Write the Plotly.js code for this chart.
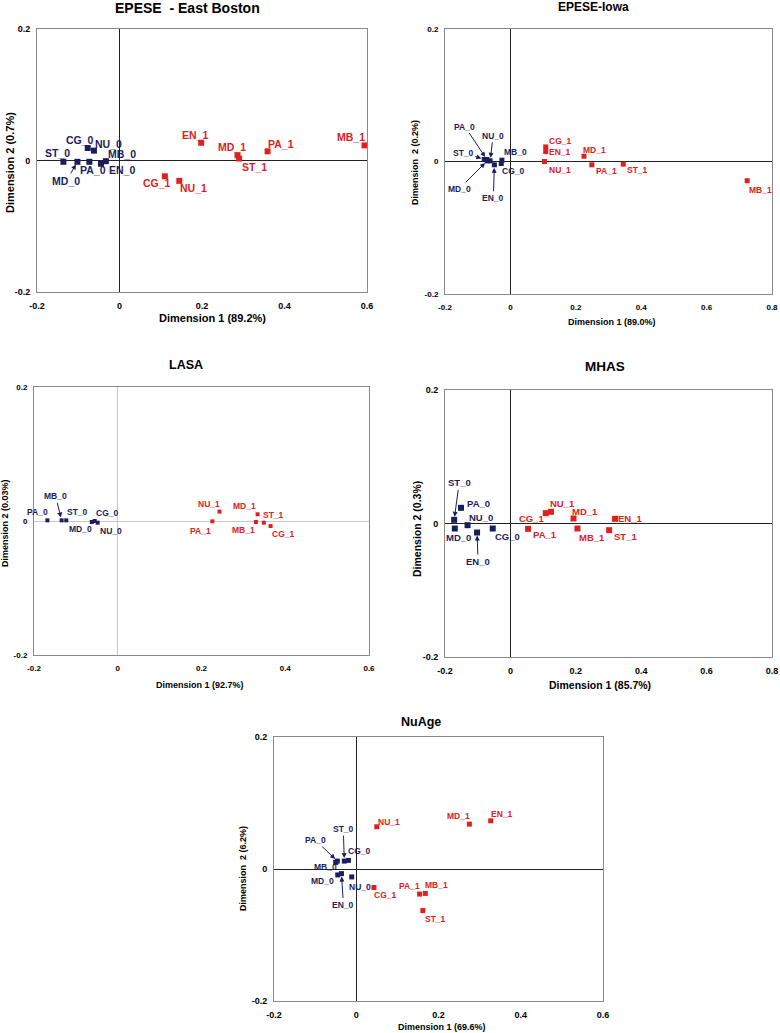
<!DOCTYPE html>
<html>
<head>
<meta charset="utf-8">
<script src="https://cdn.plot.ly/plotly-3.0.1.min.js"></script>
<style>html,body{margin:0;padding:0;background:#fff;}#chart{width:780px;height:1033px;}</style>
</head>
<body>
<div id="chart"></div>
<script>
// ---------- DATA ----------
const bostonLabels = ["ST_0","MD_0","PA_0","CG_0","NU_0","EN_0","MB_0","EN_1","MD_1","ST_1","PA_1","MB_1","CG_1","NU_1"];
const bostonDim1   = [-0.136,-0.102,-0.073,-0.077,-0.062,-0.045,-0.033,0.198,0.286,0.290,0.359,0.594,0.110,0.145];
const bostonDim2   = [-0.002,-0.002,-0.002,0.019,0.015,-0.005,-0.001,0.027,0.008,0.003,0.014,0.023,-0.024,-0.031];

const iowaLabels = ["ST_0","PA_0","NU_0","MD_0","EN_0","CG_0","MB_0","CG_1","EN_1","NU_1","MD_1","PA_1","ST_1","MB_1"];
const iowaDim1   = [-0.080,-0.072,-0.062,-0.071,-0.049,-0.028,-0.026,0.108,0.108,0.104,0.225,0.249,0.345,0.724];
const iowaDim2   = [0.003,0.003,0.001,0.001,-0.005,-0.003,0.002,0.022,0.015,0.000,0.008,-0.005,-0.004,-0.029];

const lasaLabels = ["PA_0","MB_0","ST_0","MD_0","CG_0","NU_0","NU_1","PA_1","MD_1","MB_1","ST_1","CG_1"];
const lasaDim1   = [-0.168,-0.134,-0.123,-0.062,-0.055,-0.048,0.243,0.226,0.334,0.330,0.349,0.365];
const lasaDim2   = [0.001,0.001,0.001,-0.0015,0.000,-0.0025,0.014,-0.0005,0.010,-0.0015,-0.0025,-0.0075];

const mhasLabels = ["ST_0","PA_0","NU_0","MD_0","EN_0","CG_0","CG_1","NU_1","PA_1","MD_1","MB_1","EN_1","ST_1"];
const mhasDim1   = [-0.172,-0.151,-0.131,-0.170,-0.102,-0.054,0.108,0.124,0.054,0.193,0.205,0.320,0.302];
const mhasDim2   = [0.0055,0.0235,-0.0025,-0.0075,-0.0135,-0.0075,0.0155,0.0175,-0.008,0.0075,-0.0075,0.007,-0.010];

const nuageLabels = ["NU_1","MD_1","EN_1","PA_0","ST_0","CG_0","MB_0","MD_0","EN_0","NU_0","CG_1","PA_1","MB_1","ST_1"];
const nuageDim1   = [0.050,0.275,0.327,-0.046,-0.029,-0.019,-0.050,-0.045,-0.036,-0.011,0.043,0.154,0.168,0.162];
const nuageDim2   = [0.064,0.068,0.073,0.012,0.012,0.013,0.010,-0.009,-0.007,-0.012,-0.028,-0.038,-0.037,-0.063];

const xTicks = [-0.2, 0, 0.2, 0.4, 0.6, 0.8];
const yTicks = [-0.2, 0, 0.2];

// ---------- STYLE / LAYOUT ----------
const NAVY = "#1b1d5c", RED = "#e0201e";
const W = 780, H = 1033;
const FONT = "Liberation Sans, Arial, sans-serif";

const panels = [
  {title:"EPESE  - East Boston", labels:bostonLabels, d1:bostonDim1, d2:bostonDim2,
   xmax:0.6, box:[37,367,29,292], titleXY:[187,8,14], xt:["Dimension 1 (89.2%)",213,318,11], yt:["Dimension 2 (0.7%)",10,163,11],
   tickSize:9, lblSize:10.5, mk:6, zero:"#222",
   off:{ST_0:[-6,-9],MD_0:[-11,19,1],PA_0:[4,8],CG_0:[-8,-8],NU_0:[15,-7],EN_0:[21,6],MB_0:[16,-7],
        EN_1:[-6,-8],MD_1:[-5,-8],ST_1:[15,8],PA_1:[13,-7],MB_1:[-14,-8],CG_1:[-8,7],NU_1:[14,7]}},
  {title:"EPESE-Iowa", labels:iowaLabels, d1:iowaDim1, d2:iowaDim2,
   xmax:0.8, box:[445,772,29,294], titleXY:[593,7,12], xt:["Dimension 1 (89.0%)",612,322,9], yt:["Dimension  2 (0.2%)",415,163,9],
   tickSize:8, lblSize:8.5, mk:5, zero:"#222",
   off:{ST_0:[-21,-7,1],PA_0:[-22,-33,1],NU_0:[3,-25,1],MD_0:[-28,28,1],EN_0:[-1,33,1],CG_0:[12,8],MB_0:[14,-8],
        CG_1:[14,-6],EN_1:[14,0],NU_1:[16,9],MD_1:[11,-6],PA_1:[15,6],ST_1:[14,6],MB_1:[13,9]}},
  {title:"LASA", labels:lasaLabels, d1:lasaDim1, d2:lasaDim2,
   xmax:0.6, box:[34,369,387,655], titleXY:[186,365,12.5], xt:["Dimension 1 (92.7%)",200,685,9], yt:["Dimension 2 (0.03%)",5,523,9],
   tickSize:8, lblSize:8.5, mk:4, zero:"#c8c8c8",
   off:{PA_0:[-10,-8],MB_0:[-6,-24,1],ST_0:[11,-8],MD_0:[-11,7],CG_0:[12,-8],NU_0:[13,8],
        NU_1:[-11,-8],PA_1:[-12,10],MD_1:[-13,-8],MB_1:[-12,8],ST_1:[10,-8],CG_1:[12,8]}},
  {title:"MHAS", labels:mhasLabels, d1:mhasDim1, d2:mhasDim2,
   xmax:0.8, box:[445,772,390,657], titleXY:[605,367,13.5], xt:["Dimension 1 (85.7%)",600,685,10.5], yt:["Dimension 2 (0.3%)",417,529,10.5],
   tickSize:9, lblSize:9.5, mk:6, zero:"#222",
   off:{ST_0:[5,-37,1],PA_0:[17,-4],NU_0:[13,-8],MD_0:[4,9],EN_0:[1,29,1],CG_0:[15,8],
        CG_1:[-14,5],NU_1:[12,-8],PA_1:[17,6],MD_1:[11,-7],MB_1:[15,9],EN_1:[15,0],ST_1:[16,6]}},
  {title:"NuAge", labels:nuageLabels, d1:nuageDim1, d2:nuageDim2,
   xmax:0.6, box:[274,603,737,1001], titleXY:[421,722,12.5], xt:["Dimension 1 (69.6%)",442,1027,9], yt:["Dimension  2 (6.2%)",243,869,9],
   tickSize:9, lblSize:8.5, mk:5, zero:"#222",
   off:{NU_1:[12,-5],MD_1:[-11,-8],EN_1:[11,-7],PA_0:[-22,-21,1],ST_0:[-1,-32,1],CG_0:[11,-9],MB_0:[-10,5],
        MD_0:[-15,6],EN_0:[2,31,1],NU_0:[8,10],CG_1:[11,8],PA_1:[-10,-8],MB_1:[11,-8],ST_1:[13,8]}}
];

const traces = [];
const layout = {
  width: W, height: H, margin:{l:0,r:0,t:0,b:0},
  paper_bgcolor:"#fff", plot_bgcolor:"#fff", showlegend:false,
  font:{family:FONT, color:"#000"}, annotations:[]
};

panels.forEach((p, i) => {
  const n = i + 1;
  const xa = "xaxis" + (n === 1 ? "" : n), ya = "yaxis" + (n === 1 ? "" : n);
  const xr = "x" + (n === 1 ? "" : n), yr = "y" + (n === 1 ? "" : n);
  const [x0, x1, y0, y1] = p.box;
  const ticks = xTicks.filter(t => t <= p.xmax + 1e-9);
  const axisCommon = {
    showgrid:false, zeroline:true, zerolinecolor:p.zero, zerolinewidth:1,
    showline:true, mirror:true, linecolor:"#8a8a8a", linewidth:1,
    ticks:"", tickfont:{family:FONT, size:p.tickSize, color:"#000", weight:"bold"},
    fixedrange:true
  };
  layout[xa] = Object.assign({}, axisCommon, {
    domain:[x0 / W, x1 / W], range:[-0.2, p.xmax], tickvals:ticks,
    ticktext:ticks.map(t => String(t)), anchor:yr, ticklabelstandoff:5
  });
  layout[ya] = Object.assign({}, axisCommon, {
    domain:[1 - y1 / H, 1 - y0 / H], range:[-0.2, 0.2], tickvals:yTicks,
    ticktext:yTicks.map(t => String(t)), anchor:xr, ticklabelstandoff:4
  });

  const colors = p.labels.map(l => l.endsWith("_1") ? RED : NAVY);
  traces.push({
    type:"scatter", mode:"markers", x:p.d1, y:p.d2, xaxis:xr, yaxis:yr, cliponaxis:false,
    text:p.labels, hoverinfo:"text",
    marker:{symbol:"square", size:p.mk, color:colors, line:{width:0}}
  });

  p.labels.forEach((lab, k) => {
    const o = p.off[lab] || [10, -8];
    const col = lab.endsWith("_1") ? RED : NAVY;
    const base = {x:p.d1[k], y:p.d2[k], xref:xr, yref:yr, text:lab,
      font:{family:FONT, size:p.lblSize, color:col, weight:"bold"}};
    if (o[2]) {
      layout.annotations.push(Object.assign(base, {showarrow:true, ax:o[0], ay:o[1],
        arrowhead:2, arrowsize:1, arrowwidth:1, arrowcolor:NAVY, standoff:3}));
    } else {
      layout.annotations.push(Object.assign(base, {showarrow:false, xshift:o[0], yshift:-o[1]}));
    }
  });

  // panel title
  layout.annotations.push({xref:"paper", yref:"paper", x:p.titleXY[0] / W, y:1 - p.titleXY[1] / H,
    text:p.title, showarrow:false, xanchor:"center", yanchor:"middle",
    font:{family:FONT, size:p.titleXY[2], weight:"bold", color:"#000"}});
  // x axis title
  layout.annotations.push({xref:"paper", yref:"paper", x:p.xt[1] / W, y:1 - p.xt[2] / H,
    text:p.xt[0], showarrow:false, xanchor:"center", yanchor:"middle",
    font:{family:FONT, size:p.xt[3], weight:"bold", color:"#000"}});
  // y axis title
  layout.annotations.push({xref:"paper", yref:"paper", x:p.yt[1] / W, y:1 - p.yt[2] / H,
    text:p.yt[0], showarrow:false, xanchor:"center", yanchor:"middle", textangle:-90,
    font:{family:FONT, size:p.yt[3], weight:"bold", color:"#000"}});
});

Plotly.newPlot("chart", traces, layout, {staticPlot:true, displayModeBar:false});
</script>
</body>
</html>
